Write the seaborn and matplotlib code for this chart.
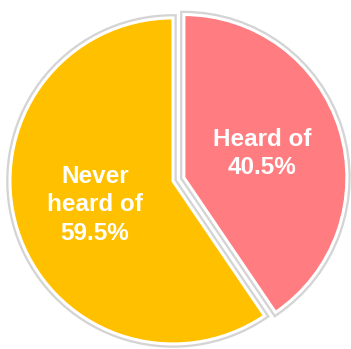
import matplotlib
matplotlib.use("Agg")
import matplotlib.pyplot as plt
import matplotlib.patheffects as pe
import seaborn as sns

# Survey answers: share of respondents
categories = ["Heard of", "Never heard of"]
shares = [40.5, 59.5]
label_text = ["Heard of", "Never\nheard of"]
palette = ["#FF7C80", "#FFC000"]

sns.set_theme(style="white")
plt.rcParams["font.family"] = ["Liberation Sans", "DejaVu Sans"]

fig = plt.figure(figsize=(3.51, 3.49), dpi=100)
ax = fig.add_axes([0, 0, 1, 1])

wedges, texts, autotexts = ax.pie(
    shares,
    colors=sns.color_palette(palette),
    startangle=90,
    counterclock=False,
    explode=[0.07, 0.0],
    radius=1.0,
    autopct=lambda p: f"{p:.1f}%",
    pctdistance=0.5,
    wedgeprops=dict(edgecolor="white", linewidth=2.2),
    textprops=dict(color="white", fontsize=17.5, fontweight="bold"),
)

for w in wedges:
    w.set_path_effects([
        pe.Stroke(linewidth=5.5, foreground="#d4d4d4"),
        pe.Normal(),
    ])

for t, name, val in zip(autotexts, label_text, shares):
    t.set_text(f"{name}\n{val:.1f}%")
    t.set_linespacing(1.3)
    t.set_ha("center")
    t.set_va("center")

ax.set_aspect("equal")
ax.set_xlim(-1.061, 1.092)
ax.set_ylim(-1.031, 1.110)
ax.axis("off")

fig.savefig("out.png", dpi=100, facecolor="white")
